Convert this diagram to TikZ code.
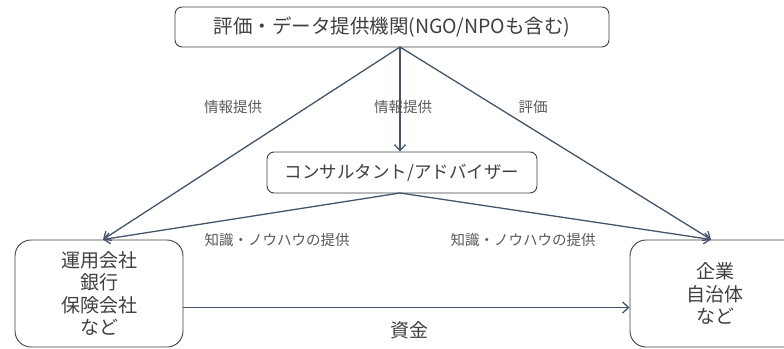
\documentclass[tikz,border=0pt]{standalone}
\usepackage{fontspec}
\setmainfont{Noto Sans CJK JP}
\usetikzlibrary{arrows.meta}
\definecolor{arr}{HTML}{44546A}
\definecolor{bd}{HTML}{404040}
\definecolor{lbl}{HTML}{595959}
\begin{document}
\begin{tikzpicture}[x=1pt,y=-1pt,
  boxr/.style={draw=bd, line width=0.9pt, rounded corners=7pt, fill=white, text=bd, inner sep=0pt},
  conn/.style={draw=arr, line width=1.3pt, -{Straight Barb[length=6pt,width=11pt,line width=1.3pt]}},
  lab/.style={text=lbl, font=\fontsize{14.5}{17}\selectfont, inner sep=0pt}]
\useasboundingbox (0,0) rectangle (784,348);
\node[boxr, minimum width=434pt, minimum height=40pt, font=\fontsize{19.5}{22}\selectfont] (top) at (392,27) {評価・データ提供機関(NGO/NPOも含む)};
\node[boxr, minimum width=270pt, minimum height=41pt, font=\fontsize{17.5}{20}\selectfont] (cons) at (402,172.5) {コンサルタント/アドバイザー};
\node[boxr, minimum width=168pt, minimum height=107pt, rounded corners=16pt, align=center, font=\fontsize{19}{22.5}\selectfont] (left) at (99,293.5) {運用会社\\銀行\\保険会社\\など};
\node[boxr, minimum width=170pt, minimum height=107pt, rounded corners=16pt, align=center, font=\fontsize{19}{22.5}\selectfont] (right) at (715,293.5) {企業\\自治体\\など};
\coordinate (tb) at (400,47);
\coordinate (cb) at (400,193);
\coordinate (lt) at (103,239.5);
\coordinate (rt) at (711,239.5);
\draw[conn] (tb) -- (lt);
\draw[conn] (tb) -- (rt);
\draw[conn] (tb) -- (cons.north -| tb);
\draw[conn] (cb) -- (lt);
\draw[conn] (cb) -- (rt);
\draw[conn] (left.east |- 0,307.5) -- (right.west |- 0,307.5);
\node[lab] (l1) at (233,107) {情報提供};
\node[lab] (l2) at (403,107) {情報提供};
\node[lab] (l3) at (533,107) {評価};
\node[lab] (l4) at (277,240) {知識・ノウハウの提供};
\node[lab] (l5) at (523,240) {知識・ノウハウの提供};
\node[text=bd, font=\fontsize{19}{22}\selectfont, inner sep=0pt] (l6) at (409,330) {資金};
\end{tikzpicture}
\end{document}
